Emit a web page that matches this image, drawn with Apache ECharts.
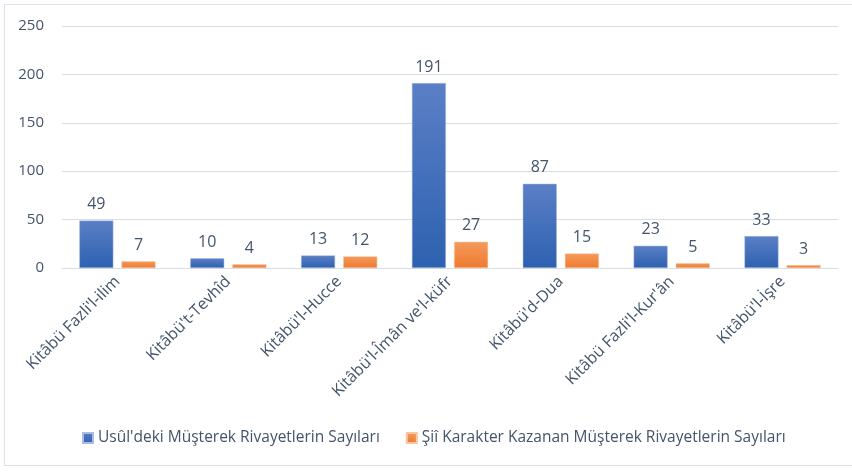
<!DOCTYPE html>
<html><head><meta charset="utf-8">
<script src="https://cdn.jsdelivr.net/npm/echarts@6/dist/echarts.min.js"></script>
<style>html,body{margin:0;padding:0;background:#fff}#c{width:852px;height:473px}
#frame{position:absolute;left:4px;top:4px;width:860px;height:462px;border:1px solid #d9e1ea;box-sizing:border-box;pointer-events:none}</style>
</head><body><div id="c"></div><div id="frame"></div>
<script>
const categories = ["Kitâbü Fazli'l-ilim", "Kitâbü't-Tevhîd", "Kitâbü'l-Hucce", "Kitâbü'l-Îmân ve'l-küfr", "Kitâbü'd-Dua", "Kitâbü Fazli'l-Kur'ân", "Kitâbü'l-İşre"];
const seriesNames = ["Usûl'deki Müşterek Rivayetlerin Sayıları", "Şiî Karakter Kazanan Müşterek Rivayetlerin Sayıları"];
const usulValues = [49, 10, 13, 191, 87, 23, 33];
const shiiValues = [7, 4, 12, 27, 15, 5, 3];
const yTicks = [0, 50, 100, 150, 200, 250];

const textColor = '#44546a';
const font = 'Open Sans';
const chart = echarts.init(document.getElementById('c'));
const grad = (a, b) => new echarts.graphic.LinearGradient(0, 0, 0, 1, [{offset: 0, color: a}, {offset: 1, color: b}]);
chart.setOption({
  animation: false,
  textStyle: {fontFamily: font},
  grid: {left: 62, right: 14, top: 26, bottom: 205, containLabel: false},
  legend: {
    bottom: 22, left: 77, itemWidth: 10, itemHeight: 10, itemGap: 26, itemTextGap: 5,
    icon: 'rect',
    textStyle: {color: textColor, fontSize: 15.5, fontFamily: font},
    data: seriesNames
  },
  xAxis: {
    type: 'category', data: categories,
    axisLine: {lineStyle: {color: '#d9dde3'}},
    axisTick: {show: false},
    axisLabel: {rotate: 45, color: textColor, fontSize: 16, fontFamily: font, margin: 11, interval: 0}
  },
  yAxis: {
    type: 'value', min: yTicks[0], max: yTicks[yTicks.length - 1], interval: 50,
    axisLine: {show: false}, axisTick: {show: false},
    axisLabel: {color: textColor, fontSize: 15, fontFamily: font, margin: 18},
    splitLine: {lineStyle: {color: '#d9dde3', width: 1}}
  },
  series: [
    {
      name: seriesNames[0], type: 'bar', data: usulValues,
      barWidth: 34, barGap: '24%',
      itemStyle: {color: grad('#5b7fc6', '#2d61b0'), borderColor: '#a9bde0', borderWidth: 0.5},
      label: {show: true, position: 'top', distance: 8, color: textColor, fontSize: 16, fontFamily: font}
    },
    {
      name: seriesNames[1], type: 'bar', data: shiiValues,
      barWidth: 34,
      itemStyle: {color: grad('#f59a5c', '#ee7a30'), borderColor: '#f8c6a3', borderWidth: 0.5},
      label: {show: true, position: 'top', distance: 8, color: textColor, fontSize: 16, fontFamily: font}
    }
  ]
});
</script></body></html>
